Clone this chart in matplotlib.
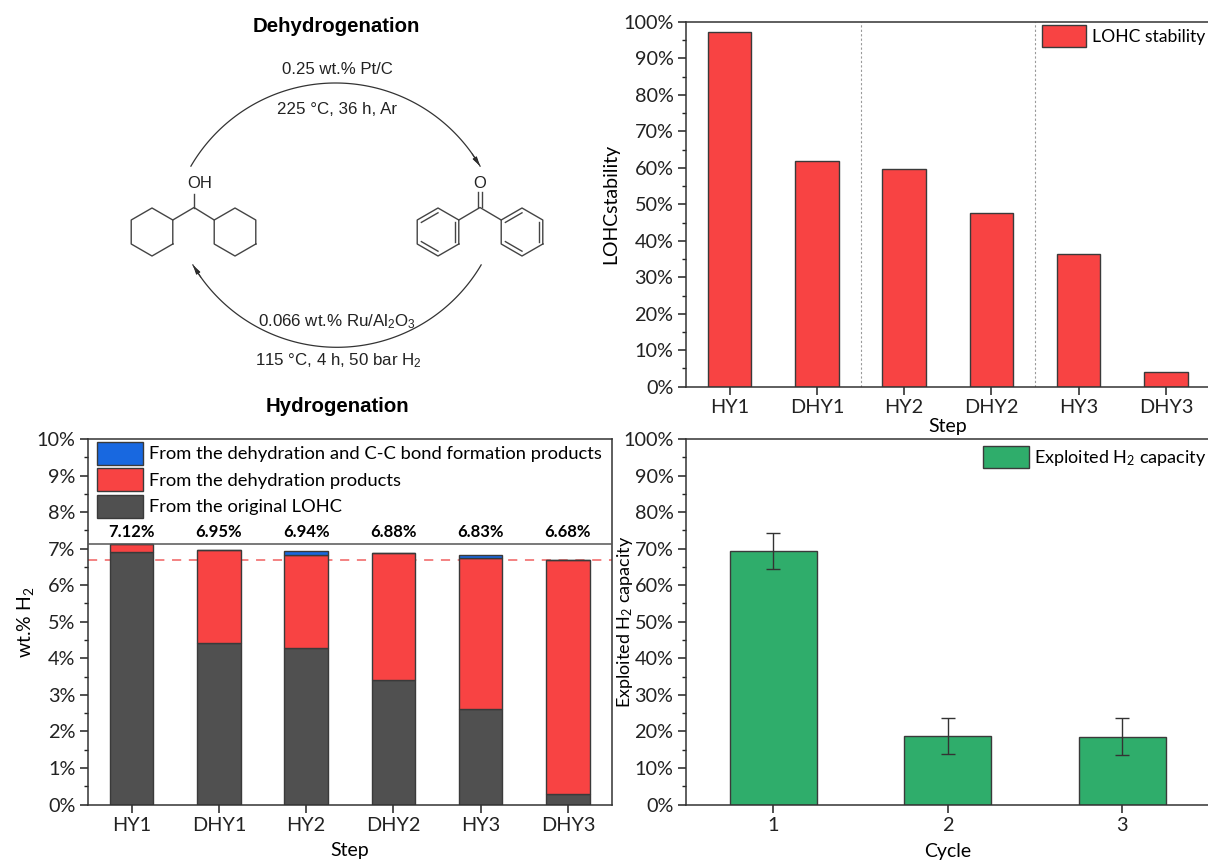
import numpy as np
import matplotlib
matplotlib.use("Agg")
import matplotlib.pyplot as plt
from matplotlib.patches import FancyArrowPatch
from matplotlib.ticker import MultipleLocator, FuncFormatter

# Data
steps = ["HY1", "DHY1", "HY2", "DHY2", "HY3", "DHY3"]
original_lohc = [6.92, 4.42, 4.27, 3.40, 2.60, 0.28]
dehydration = [0.20, 2.53, 2.55, 3.47, 4.15, 6.40]
cc_formation = [0.00, 0.00, 0.12, 0.01, 0.08, 0.00]
total_labels = ["7.12%", "6.95%", "6.94%", "6.88%", "6.83%", "6.68%"]
total_first = 7.12
total_last = 6.68

stability = [97.3, 61.8, 59.6, 47.5, 36.3, 3.9]
step_dividers = [2.5, 4.5]

cycles = [1, 2, 3]
capacity = [69.3, 18.7, 18.6]
capacity_err = [5.0, 5.0, 5.0]

RED = "#F84343"
GREY = "#505050"
BLUE = "#1868E0"
GREEN = "#2FAD6B"
EDGE = "#3a3a3a"
W, H = 1208, 860

plt.rcParams["font.family"] = ["Lato", "DejaVu Sans"]
plt.rcParams["font.size"] = 14
plt.rcParams["axes.linewidth"] = 1.1
plt.rcParams["axes.edgecolor"] = "#333333"
plt.rcParams["xtick.color"] = "#222222"
plt.rcParams["ytick.color"] = "#222222"


def axes_px(fig, left, top, right, bottom):
    return fig.add_axes([left / W, 1 - bottom / H, (right - left) / W, (bottom - top) / H])


def percent_axis(ax, ymax, major, minor):
    ax.set_ylim(0, ymax)
    ax.yaxis.set_major_locator(MultipleLocator(major))
    ax.yaxis.set_minor_locator(MultipleLocator(minor))
    ax.yaxis.set_major_formatter(FuncFormatter(lambda v, p: "%d%%" % round(v)))
    ax.tick_params(axis="both", which="major", length=6, width=1.1, labelsize=14.3, pad=3)
    ax.tick_params(axis="y", which="minor", length=3, width=1.0)


def hexagon(ax, cx, cy, r, inner=False):
    ang = np.radians(np.arange(0, 361, 60) + 30)
    px = cx + r * np.cos(ang)
    py = cy + r * np.sin(ang)
    ax.plot(px, py, color="#444444", lw=1.0)
    if inner:
        for i in (1, 3, 5):
            ax.plot([cx + (px[i] - cx) * 0.8, cx + (px[i + 1] - cx) * 0.8],
                    [cy + (py[i] - cy) * 0.8, cy + (py[i + 1] - cy) * 0.8], color="#444444", lw=1.0)


def arc_arrow(ax, cx, cy, r, start, end):
    # Circular arc with the head placed on its last stretch
    t = np.radians(np.linspace(start, end, 120))
    ax.plot(cx + r * np.cos(t), cy + r * np.sin(t), color="#333333", lw=0.9)
    ax.add_patch(FancyArrowPatch((cx + r * np.cos(t[-6]), cy + r * np.sin(t[-6])),
                                 (cx + r * np.cos(t[-1]), cy + r * np.sin(t[-1])),
                                 arrowstyle="-|>,head_length=0.8,head_width=0.2", mutation_scale=7,
                                 lw=0.7, color="#222222", shrinkA=0, shrinkB=0))


def main():
    fig = plt.figure(figsize=(W / 100, H / 100), dpi=100)

    # Reaction scheme, drawn in pixel coordinates
    sch = fig.add_axes([0, 0, 1, 1])
    sch.set_xlim(0, W)
    sch.set_ylim(H, 0)
    sch.axis("off")
    arial = ["Liberation Sans", "DejaVu Sans"]
    sch.text(336, 26, "Dehydrogenation", family=arial, weight="bold", fontsize=14.7, ha="center", va="center")
    sch.text(337, 406, "Hydrogenation", family=arial, weight="bold", fontsize=14.7, ha="center", va="center")
    sch.text(337, 70, "0.25 wt.% Pt/C", family=arial, fontsize=12.1, ha="center", va="center", color="#222222")
    sch.text(337, 109, "225 °C, 36 h, Ar", family=arial, fontsize=12.2, ha="center", va="center", color="#222222")
    sch.text(337, 322, r"0.066 wt.% Ru/Al$\mathregular{_2}$O$\mathregular{_3}$", family=arial, fontsize=12.2,
             ha="center", va="center", color="#222222")
    sch.text(338, 361, r"115 °C, 4 h, 50 bar H$\mathregular{_2}$", family=arial, fontsize=12.2,
             ha="center", va="center", color="#222222")
    arc_arrow(sch, 335.5, 250.3, 167.3, 210.2, 329.8)
    arc_arrow(sch, 337, 180, 167.3, 30.5, 149.5)

    # Dicyclohexylmethanol
    hexagon(sch, 152, 232, 24)
    hexagon(sch, 235, 232, 24)
    sch.plot([172.8, 194, 214.2], [220, 207.5, 220], color="#444444", lw=1.0)
    sch.plot([194, 194], [207.5, 194], color="#444444", lw=1.0)
    sch.text(200, 183, "OH", family=arial, fontsize=12, ha="center", va="center", color="#222222")
    # Benzophenone
    hexagon(sch, 438, 232, 24, inner=True)
    hexagon(sch, 522, 232, 24, inner=True)
    sch.plot([458.8, 480, 501.2], [220, 207.5, 220], color="#444444", lw=1.0)
    sch.plot([478.4, 478.4], [207, 192], color="#444444", lw=1.0)
    sch.plot([481.6, 481.6], [207, 192], color="#444444", lw=1.0)
    sch.text(480, 184, "O", family=arial, fontsize=12, ha="center", va="center", color="#222222")

    legend_kw = dict(frameon=False, borderaxespad=0, borderpad=0, handlelength=2.5, handleheight=1.535,
                     labelspacing=0.195, handletextpad=0.32)

    # Stacked hydrogen content per step
    ax1 = axes_px(fig, 88, 439, 611.5, 804.5)
    x = np.arange(1, len(steps) + 1)
    grey = np.array(original_lohc)
    red = np.array(dehydration)
    blue = np.array(cc_formation)
    bar_kw = dict(width=0.5, edgecolor=EDGE, linewidth=1.0, zorder=2)
    b1 = ax1.bar(x, grey, color=GREY, label="From the original LOHC", **bar_kw)
    b2 = ax1.bar(x, red, bottom=grey, color=RED, label="From the dehydration products", **bar_kw)
    b3 = ax1.bar(x, blue, bottom=grey + red, color=BLUE, label="From the dehydration and C-C bond formation products", **bar_kw)
    ax1.axhline(total_first, color="#555555", lw=1.1, zorder=3)
    ax1.axhline(total_last, color="#F06060", lw=1.1, ls=(0, (6, 5)), zorder=1)
    for xi, lab in zip(x, total_labels):
        ax1.text(xi, 7.46, lab, ha="center", va="center", weight="bold", fontsize=12)
    ax1.set_xlim(0.5, 6.5)
    ax1.set_xticks(x)
    ax1.set_xticklabels(steps)
    percent_axis(ax1, 10, 1, 0.5)
    ax1.set_ylabel(r"wt.% H$\mathregular{_2}$", fontsize=14, va="center")
    ax1.yaxis.set_label_coords((25 - 88) / 523.5, 0.5)
    ax1.set_xlabel("Step", fontsize=14, va="center")
    ax1.xaxis.set_label_coords(0.5, -(850 - 804.5) / 365)
    ax1.legend([b3, b2, b1], [b3.get_label(), b2.get_label(), b1.get_label()], loc="upper left",
               bbox_to_anchor=(9 / 523.5, 1 - 3 / 365), fontsize=13.2, **legend_kw)

    # LOHC stability per step
    ax2 = axes_px(fig, 686, 22, 1209.5, 386.7)
    ax2.bar(x, stability, color=RED, label="LOHC stability", **bar_kw)
    for d in step_dividers:
        ax2.axvline(d, color="#999999", lw=0.8, ls=(0, (2, 2)), zorder=1)
    ax2.set_xlim(0.5, 6.5)
    ax2.set_xticks(x)
    ax2.set_xticklabels(steps)
    percent_axis(ax2, 100, 10, 5)
    ax2.set_ylabel("LOHCstability", fontsize=14, va="center")
    ax2.yaxis.set_label_coords((611 - 686) / 523.5, 0.5)
    ax2.set_xlabel("Step", fontsize=14, va="center")
    ax2.xaxis.set_label_coords(0.5, -(427 - 386.7) / 364.7)
    ax2.legend(loc="upper right", bbox_to_anchor=(1 - 4.5 / 523.5, 1 - 3 / 365), fontsize=12.6, **legend_kw)

    # Exploited capacity per cycle
    ax3 = axes_px(fig, 686, 439, 1209.5, 804.5)
    ax3.bar(cycles, capacity, yerr=capacity_err, color=GREEN, label=r"Exploited H$\mathregular{_2}$ capacity",
            error_kw=dict(ecolor="#333333", elinewidth=1.0, capsize=5, capthick=1.0, zorder=4), **bar_kw)
    ax3.set_xlim(0.5, 3.5)
    ax3.set_xticks(cycles)
    percent_axis(ax3, 100, 10, 5)
    ax3.set_ylabel(r"Exploited H$\mathregular{_2}$ capacity", fontsize=13, va="center")
    ax3.yaxis.set_label_coords((625 - 686) / 523.5, 0.5)
    ax3.set_xlabel("Cycle", fontsize=14, va="center")
    ax3.xaxis.set_label_coords(0.5, -(851 - 804.5) / 365)
    ax3.legend(loc="upper right", bbox_to_anchor=(1 - 3 / 523.5, 1 - 7 / 365), fontsize=13, **legend_kw)

    fig.savefig("out.png", dpi=100)


if __name__ == '__main__':
    main()
